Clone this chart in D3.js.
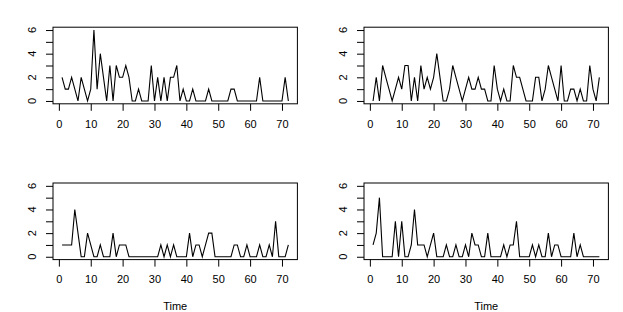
<!DOCTYPE html>
<html>
<head>
<meta charset="utf-8">
<script src="https://cdn.jsdelivr.net/npm/d3@7"></script>
<style>
  body { margin: 0; background: #fff; }
  svg { display: block; font-family: "Liberation Sans", Arial, Helvetica, sans-serif; }
</style>
</head>
<body>
<svg id="chart" width="623" height="312"></svg>
<script>
// ---- data ----
const seriesTopLeft = [2,1,1,2,1,0,2,1,0,1,6,1,4,2,0,3,0,3,2,2,3,2,0,0,1,0,0,0,3,0,2,0,2,0,2,2,3,0,1,0,0,1,0,0,0,0,1,0,0,0,0,0,0,1,1,0,0,0,0,0,0,0,2,0,0,0,0,0,0,0,2,0];
const seriesTopRight = [0,2,0,3,2,1,0,1,2,1,3,3,0,2,0,3,1,2,1,2,4,2,0,0,1,3,2,1,0,1,2,1,1,2,1,1,0,0,3,1,0,1,0,0,3,2,2,1,0,0,0,2,2,0,1,3,2,1,0,3,0,0,1,1,0,1,0,0,3,1,0,2];
const seriesBottomLeft = [1,1,1,1,4,2,0,0,2,1,0,0,1,0,0,0,2,0,1,1,1,0,0,0,0,0,0,0,0,0,0,1,0,1,0,1,0,0,0,0,2,0,1,1,0,1,2,2,0,0,0,0,0,0,1,1,0,0,1,0,0,0,1,0,0,1,0,3,0,0,0,1];
const seriesBottomRight = [1,2,5,0,0,0,0,3,0,3,0,0,1,4,1,1,1,0,1,2,0,0,0,1,0,0,1,0,0,1,0,2,1,1,0,0,2,0,0,0,0,1,0,1,1,3,0,0,0,0,1,0,1,0,0,2,0,1,1,0,0,0,0,2,0,1,0,0,0,0,0,0];
const xTicks = [0,10,20,30,40,50,60,70];
const yTicks = [0,1,2,3,4,5,6];
const yLabels = [0,2,4,6];
const xTitle = "Time";

// ---- layout ----
const svg = d3.select("#chart");
const W = 244.4;
const FS = 11;
const panels = [
  {data: seriesTopLeft,     left: 53,  top: 27.2, bottom: 103.8, title: false},
  {data: seriesTopRight,    left: 364, top: 27.2, bottom: 103.8, title: false},
  {data: seriesBottomLeft,  left: 53,  top: 183,  bottom: 259.6, title: true},
  {data: seriesBottomRight, left: 364, top: 183,  bottom: 259.6, title: true}
];

panels.forEach(p => {
  const n = p.data.length;
  const xr = [1 - 0.04 * (n - 1), n + 0.04 * (n - 1)];
  const x = d3.scaleLinear().domain(xr).range([p.left, p.left + W]);
  const y = d3.scaleLinear().domain([-0.24, 6.24]).range([p.bottom, p.top]);
  const g = svg.append("g");

  // line
  const line = d3.line().x((d, i) => x(i + 1)).y(d => y(d));
  g.append("path").datum(p.data)
    .attr("d", line)
    .attr("fill", "none")
    .attr("stroke", "#000")
    .attr("stroke-width", 1.1)
    .attr("stroke-linejoin", "miter");

  // x axis
  const xa = g.append("g").attr("transform", `translate(0,${p.bottom})`)
    .call(d3.axisBottom(x).tickValues(xTicks).tickSize(7).tickPadding(9).tickSizeOuter(0));
  xa.attr("font-size", FS).attr("font-family", "Liberation Sans, Arial, sans-serif");
  xa.select(".domain").remove();
  xa.selectAll("line").attr("stroke", "#000");
  xa.selectAll("text").attr("fill", "#000");

  // y axis
  const ya = g.append("g").attr("transform", `translate(${p.left},0)`)
    .call(d3.axisLeft(y).tickValues(yTicks).tickSize(7).tickFormat("").tickSizeOuter(0));
  ya.select(".domain").remove();
  ya.selectAll("line").attr("stroke", "#000");
  g.selectAll(".ylab").data(yLabels).enter().append("text")
    .attr("transform", d => `translate(${p.left - 17},${y(d)}) rotate(-90)`)
    .attr("text-anchor", "middle")
    .attr("font-size", FS)
    .attr("fill", "#000")
    .text(d => d);

  // box
  g.append("rect")
    .attr("x", p.left).attr("y", p.top)
    .attr("width", W).attr("height", p.bottom - p.top)
    .attr("fill", "none").attr("stroke", "#000").attr("stroke-width", 1);

  if (p.title) {
    g.append("text")
      .attr("x", p.left + W / 2).attr("y", 309.5)
      .attr("text-anchor", "middle")
      .attr("font-size", FS)
      .attr("fill", "#000")
      .text(xTitle);
  }
});
</script>
</body>
</html>
